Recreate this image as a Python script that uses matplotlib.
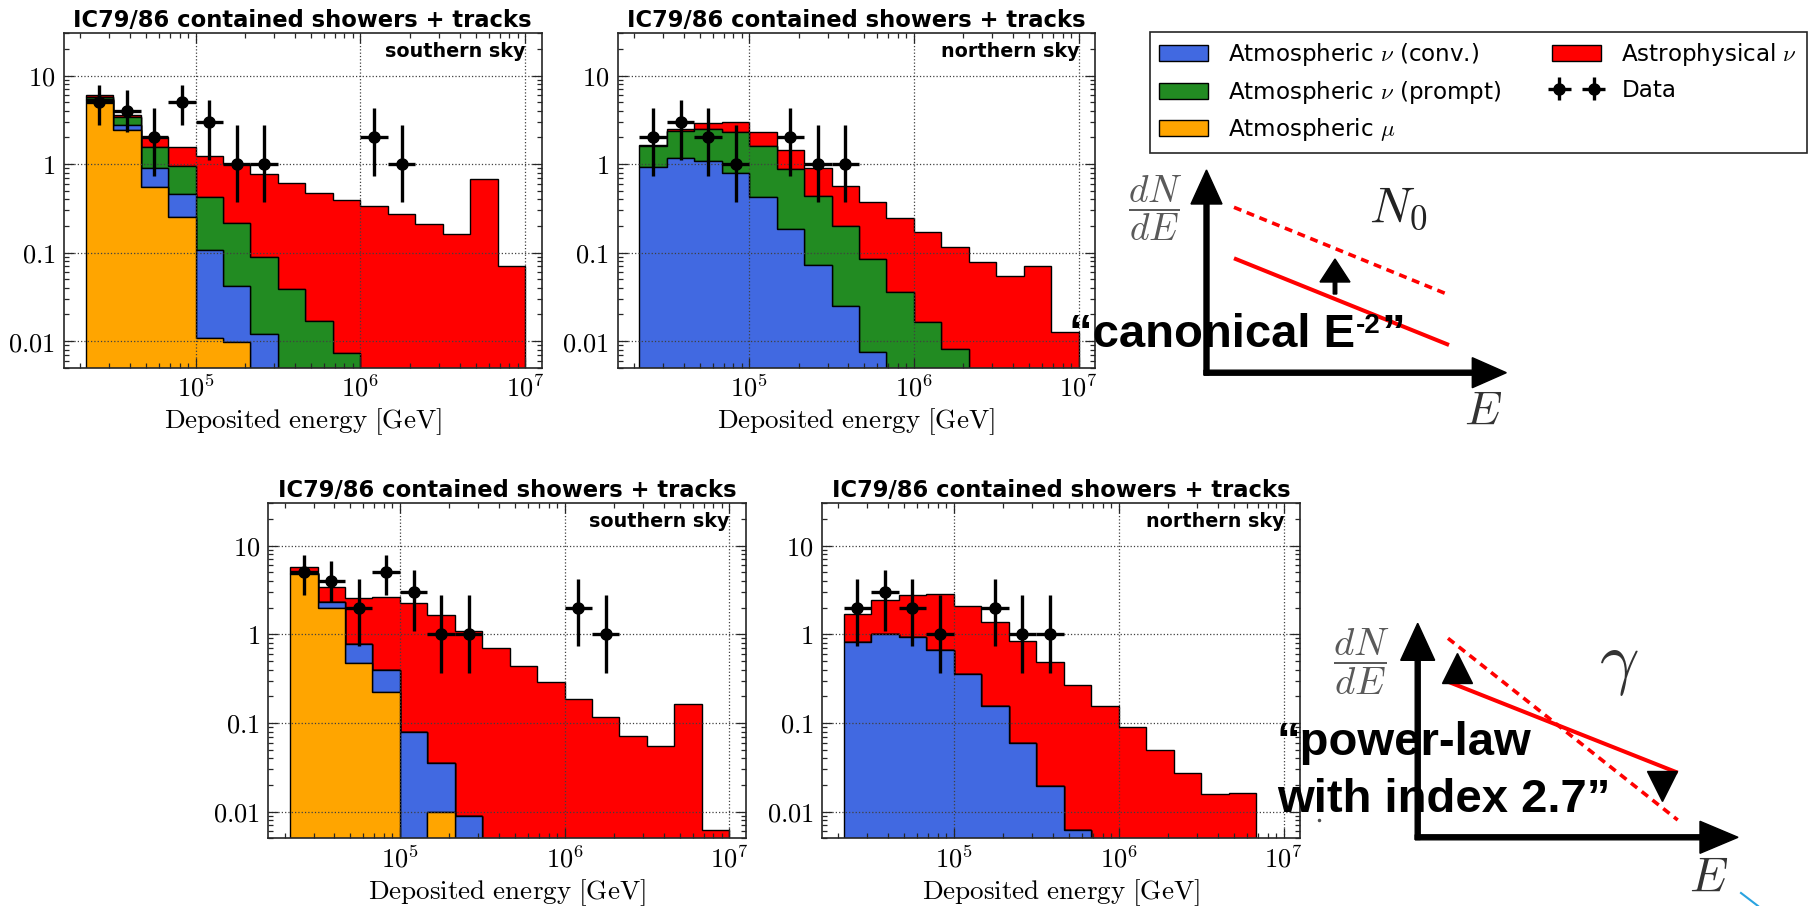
import numpy as np
import matplotlib
matplotlib.use('Agg')
import matplotlib.pyplot as plt
from matplotlib.patches import Patch
from matplotlib.ticker import NullFormatter

plt.rcParams['mathtext.fontset'] = 'cm'
plt.rcParams['font.family'] = ['DejaVu Sans']

W, H = 1820, 906
fig = plt.figure(figsize=(W / 100, H / 100), dpi=100)

# ---------------- data ----------------
edge_exponents = [4.3333, 4.5, 4.6667, 4.8333, 5.0, 5.1667, 5.3333, 5.5, 5.6667,
                  5.8333, 6.0, 6.1667, 6.3333, 6.5, 6.6667, 6.8333, 7.0]

# top row (fit with prompt component)
mu_s1 = [5.27, 2.42, 0.555, 0.255, 0.0108, 0.0097, 0, 0, 0, 0, 0, 0, 0, 0, 0, 0]
conv_s1 = [0.10, 0.33, 0.338, 0.20, 0.097, 0.032, 0.012, 0, 0, 0, 0, 0, 0, 0, 0, 0]
prompt_s1 = [0.35, 0.61, 0.647, 0.495, 0.32, 0.173, 0.076, 0.0387, 0.0167, 0.0073,
             0, 0, 0, 0, 0, 0]
astro_s1 = [0.25, 0.21, 0.46, 0.62, 0.81, 0.795, 0.69, 0.57, 0.46, 0.39, 0.34, 0.27,
            0.21, 0.162, 0.68, 0.070]

mu_n1 = [0, 0, 0, 0, 0, 0, 0, 0, 0, 0, 0, 0, 0, 0, 0, 0]
conv_n1 = [0.92, 1.16, 1.08, 0.79, 0.42, 0.184, 0.072, 0.0247, 0.0076, 0, 0, 0, 0, 0, 0, 0]
prompt_n1 = [0.66, 1.18, 1.41, 1.53, 1.16, 0.70, 0.36, 0.173, 0.077, 0.036, 0.0163,
             0.0081, 0, 0, 0, 0]
astro_n1 = [0.08, 0.15, 0.41, 0.68, 0.70, 0.56, 0.47, 0.36, 0.285, 0.209, 0.153, 0.107,
            0.079, 0.054, 0.070, 0.0126]

# bottom row (power-law fit, no prompt)
mu_s2 = [4.82, 1.98, 0.475, 0.222, 0, 0.0099, 0, 0, 0, 0, 0, 0, 0, 0, 0, 0]
conv_s2 = [0.10, 0.35, 0.30, 0.172, 0.079, 0.0257, 0.0089, 0, 0, 0, 0, 0, 0, 0, 0, 0]
prompt_s2 = [0, 0, 0, 0, 0, 0, 0, 0, 0, 0, 0, 0, 0, 0, 0, 0]
astro_s2 = [0.76, 1.08, 1.78, 2.24, 2.15, 1.60, 1.07, 0.70, 0.444, 0.293, 0.184, 0.116,
            0.071, 0.0548, 0.163, 0.0062]

mu_n2 = [0, 0, 0, 0, 0, 0, 0, 0, 0, 0, 0, 0, 0, 0, 0, 0]
conv_n2 = [0.82, 1.02, 0.925, 0.66, 0.357, 0.154, 0.0594, 0.0196, 0.0062, 0, 0, 0, 0, 0, 0, 0]
prompt_n2 = [0, 0, 0, 0, 0, 0, 0, 0, 0, 0, 0, 0, 0, 0, 0, 0]
astro_n2 = [0.88, 1.44, 1.86, 2.22, 1.75, 1.22, 0.775, 0.463, 0.262, 0.157, 0.090, 0.049,
            0.0273, 0.0156, 0.0163, 0]

south_counts = [5, 4, 2, 5, 3, 1, 1, 0, 0, 0, 2, 1, 0, 0, 0, 0]
north_counts = [2, 3, 2, 1, 0, 2, 1, 1, 0, 0, 0, 0, 0, 0, 0, 0]

# 68% interval per observed count
fc_counts = [1, 2, 3, 4, 5]
fc_low = [0.37, 0.74, 1.10, 2.33, 2.75]
fc_high = [2.75, 4.25, 5.30, 6.78, 7.75]

ytick_values = [0.01, 0.1, 1, 10]
ytick_labels = ['0.01', '0.1', '1', '10']
xtick_values = [1e5, 1e6, 1e7]
xtick_labels = ['10^{5}', '10^{6}', '10^{7}']

panel_title = 'IC79/86 contained showers + tracks'
xlabel_text = 'Deposited energy [GeV]'
legend_labels = [r'Atmospheric $\nu$ (conv.)', r'Atmospheric $\nu$ (prompt)',
                 r'Atmospheric $\mu$', r'Astrophysical $\nu$', 'Data']

layer_colors = ['#FFA500', '#4169E1', '#228B22', '#FF0000']  # mu, conv, prompt, astro

edges = 10.0 ** np.array(edge_exponents)
centers = np.sqrt(edges[:-1] * edges[1:])


def px_rect(left, top, right, bottom):
    return [left / W, 1 - bottom / H, (right - left) / W, (bottom - top) / H]


def draw_panel(rect, comps, counts, sky):
    ax = fig.add_axes(rect)
    ax.set_xscale('log')
    ax.set_yscale('log')
    ax.hist([centers] * 4, bins=edges, weights=[np.array(c, float) for c in comps],
            stacked=True, histtype='stepfilled', color=layer_colors,
            edgecolor='black', linewidth=1.0)
    cnt = np.array(counts)
    idx = np.nonzero(cnt)[0]
    xs = centers[idx]
    ys = cnt[idx].astype(float)
    lo = np.array([fc_low[fc_counts.index(int(c))] for c in ys])
    hi = np.array([fc_high[fc_counts.index(int(c))] for c in ys])
    eb = ax.errorbar(xs, ys, xerr=[xs - edges[idx], edges[idx + 1] - xs],
                     yerr=[ys - lo, hi - ys], fmt='o', color='black', ms=8,
                     elinewidth=2.4, capsize=0, zorder=5)
    ax.set_xlim(10 ** 4.2, 10 ** 7.1)
    ax.set_ylim(0.005, 30)
    ax.set_yticks(ytick_values, ['$' + t + '$' for t in ytick_labels])
    ax.set_xticks(xtick_values, ['$' + t + '$' for t in xtick_labels])
    ax.xaxis.set_minor_formatter(NullFormatter())
    ax.yaxis.set_minor_formatter(NullFormatter())
    ax.tick_params(which='both', direction='in', top=True, right=True,
                   labelsize=19, color='0.15', width=0.9)
    ax.tick_params(which='major', length=7, pad=6)
    ax.tick_params(which='minor', length=3.5)
    ax.grid(True, which='major', linestyle=':', color='0.25', linewidth=0.9)
    for s in ax.spines.values():
        s.set_linewidth(1.2)
        s.set_color('0.15')
    ax.set_title(panel_title, fontsize=16.3, fontweight='bold', pad=4.5)
    ax.set_xlabel(r'$\mathrm{' + xlabel_text.replace(' ', r'\ ') + '}$', fontsize=19.5)
    ax.xaxis.set_label_coords(0.5, -54.0 / 334.4)
    ax.xaxis.label.set_va('center')
    ax.text(1 - 15.8 / 478, 1 - 18.4 / 334.4, sky, transform=ax.transAxes,
            ha='right', va='center', fontsize=13.8, fontweight='bold')
    return ax, eb


ax1, eb1 = draw_panel(px_rect(63.6, 33.3, 541.8, 367.7),
                      [mu_s1, conv_s1, prompt_s1, astro_s1], south_counts, 'southern sky')
ax2, _ = draw_panel(px_rect(617.5, 33.3, 1095, 367.7),
                    [mu_n1, conv_n1, prompt_n1, astro_n1], north_counts, 'northern sky')
ax3, _ = draw_panel(px_rect(268.2, 503.3, 745.7, 838.3),
                    [mu_s2, conv_s2, prompt_s2, astro_s2], south_counts, 'southern sky')
ax4, _ = draw_panel(px_rect(821.7, 503.3, 1300, 838.3),
                    [mu_n2, conv_n2, prompt_n2, astro_n2], north_counts, 'northern sky')

# ---------------- overlay (pixel coordinates) ----------------
ov = fig.add_axes([0, 0, 1, 1], zorder=10)
ov.set_xlim(0, W)
ov.set_ylim(H, 0)
ov.axis('off')

# legend
handles = [Patch(facecolor=layer_colors[1], edgecolor='black', linewidth=1.0),
           Patch(facecolor=layer_colors[2], edgecolor='black', linewidth=1.0),
           Patch(facecolor=layer_colors[0], edgecolor='black', linewidth=1.0),
           Patch(facecolor=layer_colors[3], edgecolor='black', linewidth=1.0),
           eb1]
leg = ov.legend(handles, legend_labels, ncol=2, loc='upper left',
                bbox_to_anchor=(1149.6 / W, 1 - 31.7 / H), bbox_transform=fig.transFigure,
                borderaxespad=0, fontsize=16.6, frameon=True, fancybox=False,
                edgecolor='0.15', framealpha=1, handlelength=2.1, handleheight=0.7,
                handletextpad=0.9, columnspacing=2.2, labelspacing=0.45,
                borderpad=0.42, numpoints=2)
leg.get_frame().set_linewidth(1.2)

# diagram 1 (normalisation)
ov.arrow(1206.5, 375, 0, -205, width=5, head_width=31, head_length=34,
         length_includes_head=True, color='black')
ov.arrow(1204, 372.7, 1506.3 - 1204, 0, width=5, head_width=30, head_length=34,
         length_includes_head=True, color='black')
ov.plot([1234, 1449], [258.3, 345], color='red', lw=2.9, solid_capstyle='butt')
ov.plot([1234, 1445], [207.3, 293.3], color='red', lw=2.6, ls=(0, (2.2, 1.6)))
ov.arrow(1335, 294, 0, -35, width=3.5, head_width=30, head_length=23,
         length_includes_head=True, color='black')
ov.text(1155, 208.3, r'$\dfrac{dN}{dE}$', fontsize=27, color='#5a5a5a',
        ha='center', va='center')
ov.text(1398, 208, r'$N_0$', fontsize=36, color='#222222', ha='center', va='center')
ov.text(1483.4, 411.7, r'$E$', fontsize=34, color='#333333', ha='center', va='center')

# diagram 2 (spectral index)
ov.arrow(1417.7, 839.5, 0, 623.3 - 839.5, width=5, head_width=34, head_length=37,
         length_includes_head=True, color='black')
ov.arrow(1415.2, 837.3, 1738 - 1415.2, 0, width=5, head_width=32, head_length=38,
         length_includes_head=True, color='black')
ov.plot([1448, 1677.7], [681.7, 772.7], color='red', lw=2.9, solid_capstyle='butt')
ov.plot([1448, 1677.7], [638.3, 820], color='red', lw=2.6, ls=(0, (2.2, 1.6)))
ov.plot([1457.3], [667.5], marker='^', ms=22, color='black', ls='none')
ov.plot([1661.5], [785.8], marker='v', ms=22, color='black', ls='none')
ov.text(1361, 661.7, r'$\dfrac{dN}{dE}$', fontsize=28, color='#5a5a5a',
        ha='center', va='center')
ov.text(1619, 665, r'$\gamma$', fontsize=50, color='#333333', ha='center', va='center')
ov.text(1708.7, 876.7, r'$E$', fontsize=35, color='#333333', ha='center', va='center')
ov.plot([1741, 1758], [893, 906], color='#29a3e0', lw=1.5)
ov.plot([1319], [820], marker='o', ms=1.5, color='0.3', ls='none')

# big slide texts
bold = dict(fontsize=34, fontweight='bold', family='Liberation Sans', color='black',
            va='baseline', ha='left')
t1 = ov.text(1069.3, 346.7, '\u201ccanonical E', **bold)
ov.text(1276.7, 755, '\u201cpower-law', **bold)
ov.text(1276.7, 811.7, 'with index 2.7\u201d', **bold)

fig.canvas.draw()
r = fig.canvas.get_renderer()
x_end = t1.get_window_extent(r).x1
t2 = ov.text(x_end + 0.5, 333.3, '-2', fontsize=20, fontweight='bold',
             family='Liberation Sans', va='baseline', ha='left')
fig.canvas.draw()
x_end2 = t2.get_window_extent(r).x1
ov.text(x_end2 + 0.5, 346.7, '\u201d', **bold)

fig.savefig('out.png', dpi=100)
